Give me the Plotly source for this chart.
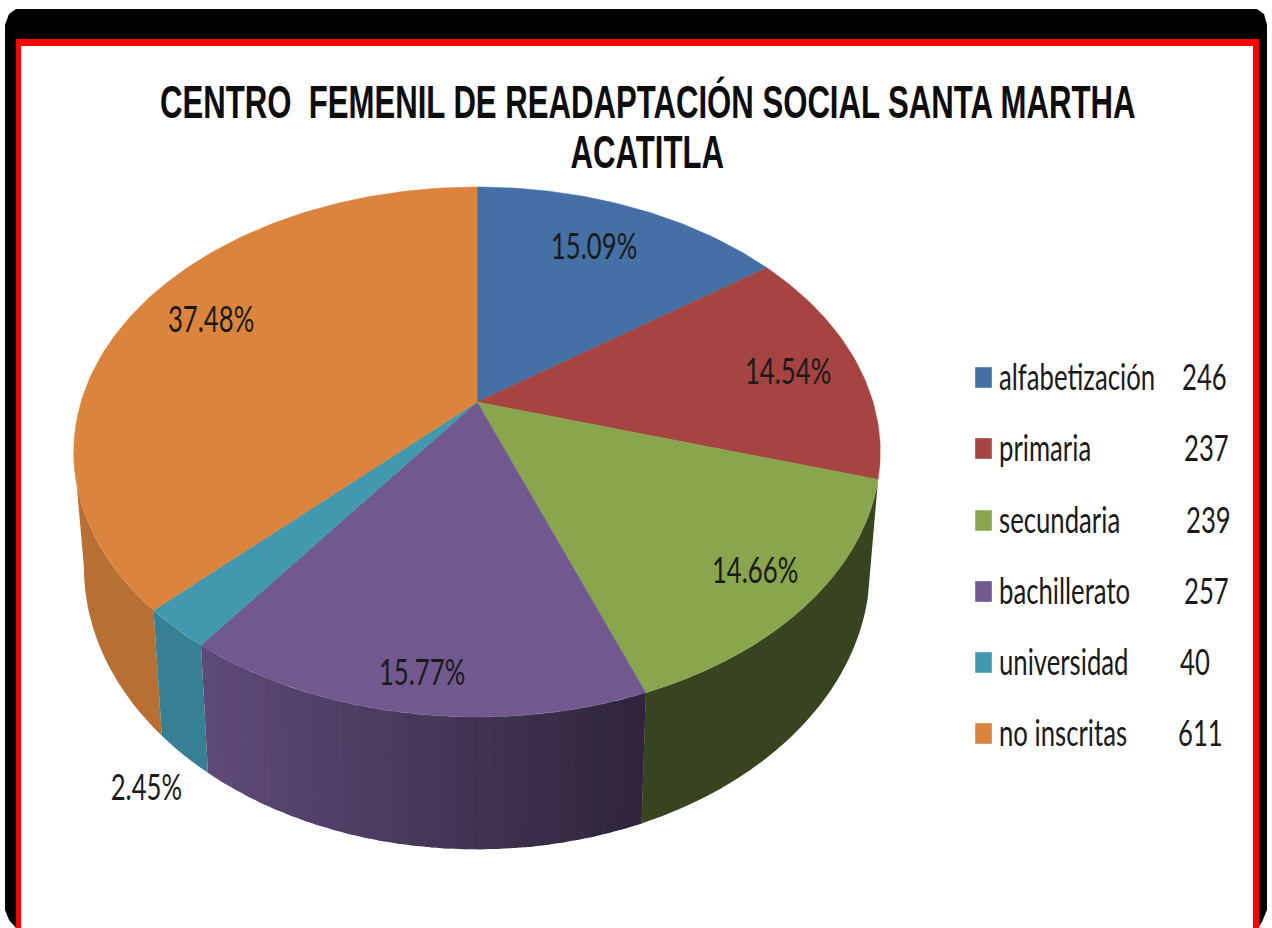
import math
import plotly.graph_objects as go

# ---- data ----
categories = ["alfabetización", "primaria", "secundaria", "bachillerato", "universidad", "no inscritas"]
counts = [246, 237, 239, 257, 40, 611]
percent_labels = ["15.09%", "14.54%", "14.66%", "15.77%", "2.45%", "37.48%"]
title_lines = ["CENTRO  FEMENIL DE READAPTACIÓN SOCIAL SANTA MARTHA", "ACATITLA"]

# ---- styles ----
colors = ["#4470a6", "#a64442", "#89a54e", "#71588f", "#4198af", "#db843d"]
LABEL_FONT = "Lato"
TITLE_FONT = "Liberation Sans"
LABEL_SIZE = 37
TITLE_SIZE = 46
LABEL_SCALE = 0.695
TITLE_SCALE = 0.677
label_xy = [(594, 244.5), (788, 369.5), (755, 568.5), (422, 670.5), (146, 785.5), (211, 317.5)]
legend_y = [378, 449, 521, 592, 663, 734]
value_x = [1180, 1182, 1184, 1182, 1178, 1176]

# perspective model of the disc (top and bottom faces)
CX = 477
K = 0.1887
TOP = dict(y0=402.0, A=396.0, B=255.6)
BOT = dict(y0=514.0, A=386.0, B=272.0)
TANGENT_LEFT = 360 - math.degrees(math.acos(-K))


def project(deg, face):
    t = math.radians(deg)
    u, v = math.sin(t), math.cos(t)
    d = 1 + K * v
    return CX + face["A"] * u / d, face["y0"] - face["B"] * v / d


def shade(hex_color, f):
    r, g, b = (int(hex_color[i:i + 2], 16) for i in (1, 3, 5))
    return f"rgb({round(r * f)},{round(g * f)},{round(b * f)})"


def side_factor(x):
    if x < 210:
        return 0.84
    if x > 640:
        return 0.41
    return 0.84 + (x - 210) / 430 * (0.41 - 0.84)


total = sum(counts)
edges = [0.0]
for c in counts:
    edges.append(edges[-1] + c / total * 360)

fig = go.Figure()


def poly(xs, ys, color, name=None):
    fig.add_trace(go.Scatter(
        x=xs, y=ys, mode="none" if name is None else "lines", fill="toself", fillcolor=color,
        line=dict(color=color, width=0.5), hoverinfo="skip" if name is None else "text",
        text=name, showlegend=False))


def wall(a, b, color):
    n = max(2, int(abs(b - a)))
    angles = [a + (b - a) * j / n for j in range(n + 1)]
    top = [project(t, TOP) for t in angles]
    bot = [project(t, BOT) for t in reversed(angles)]
    pts = top + bot
    poly([p[0] for p in pts], [p[1] for p in pts], color)


# side wall, drawn left to right
wall(TANGENT_LEFT, edges[5], shade(colors[5], 0.84))
wall(edges[5], edges[4], shade(colors[4], 0.84))
STRIP = 2.0
a = edges[4]
while a > edges[3]:
    b = max(edges[3], a - STRIP)
    x_mid = (project(a, BOT)[0] + project(b, BOT)[0]) / 2
    # each strip runs on under the next one, so no seam shows
    wall(a, max(edges[3], b - STRIP / 2), shade(colors[3], side_factor(x_mid)))
    a = b
wall(edges[3], edges[2], shade(colors[2], 0.41))

# top faces
for i, cat in enumerate(categories):
    n = max(2, int(edges[i + 1] - edges[i]))
    arc = [project(edges[i] + (edges[i + 1] - edges[i]) * j / n, TOP) for j in range(n + 1)]
    xs = [CX] + [p[0] for p in arc] + [CX]
    ys = [TOP["y0"]] + [p[1] for p in arc] + [TOP["y0"]]
    poly(xs, ys, colors[i], f"{cat}: {counts[i]}")

# frame
frame = [
    dict(type="path", path="M5,25 L9,14 L16,9 L1257,9 L1264,14 L1267,25 L1267,910 L1262,922 L1258,928 L16,928 L9,920 L5,910 Z",
         fillcolor="#000000", line_width=0, layer="below"),
    dict(type="rect", x0=16, x1=1259, y0=39, y1=928, fillcolor="#ff0000", line_width=0, layer="below"),
    dict(type="rect", x0=21, x1=1253, y0=46, y1=928, fillcolor="#ffffff", line_width=0, layer="below"),
]
# legend keys
keys = [dict(type="rect", x0=975, x1=992, y0=y - 11, y1=y + 10, fillcolor=c,
             line=dict(color="rgba(255,255,255,0.4)", width=1), layer="above")
        for y, c in zip(legend_y, colors)]

label_font = dict(family=LABEL_FONT, size=LABEL_SIZE, color="#1a1a1a")
ann = []
for txt, (x, y) in zip(percent_labels, label_xy):
    ann.append(dict(x=x, y=y, text=txt, xanchor="center", yanchor="middle", showarrow=False, font=label_font))
for cat, val, y, vx in zip(categories, counts, legend_y, value_x):
    ann.append(dict(x=997, y=y - 3, text=cat, xanchor="left", yanchor="middle", showarrow=False, font=label_font))
    ann.append(dict(x=vx, y=y - 3, text=str(val), xanchor="left", yanchor="middle", showarrow=False, font=label_font))
for line, y in zip(title_lines, [102, 152]):
    ann.append(dict(x=647, y=y, text=f"<b>{line}</b>", xanchor="center", yanchor="middle", showarrow=False,
                    font=dict(family=TITLE_FONT, size=TITLE_SIZE, color="#0d0d0d")))

fig.update_layout(
    width=1272, height=928, margin=dict(l=0, r=0, t=0, b=0),
    paper_bgcolor="#ffffff", plot_bgcolor="rgba(0,0,0,0)",
    xaxis=dict(range=[0, 1272], visible=False, fixedrange=True),
    yaxis=dict(range=[928, 0], visible=False, fixedrange=True),
    shapes=frame + keys, annotations=ann, showlegend=False,
)

# the reference's text is condensed: narrow the real text elements horizontally
post = """
document.body.style.margin='0';
document.documentElement.style.overflow='hidden';
var gd=document.getElementById('{plot_id}');
var items=gd.querySelectorAll('.annotation-text');
items.forEach(function(t,i){
  var a=gd.layout.annotations[i];
  var s=a.font.size>40?%s:%s;
  t.style.transformBox='fill-box';
  t.style.transformOrigin=(a.xanchor==='left'?'left':'center')+' center';
  t.style.transform='scaleX('+s+')';
});
""" % (TITLE_SCALE, LABEL_SCALE)
fig.write_html("out.html", config={"displayModeBar": False}, post_script=post)
